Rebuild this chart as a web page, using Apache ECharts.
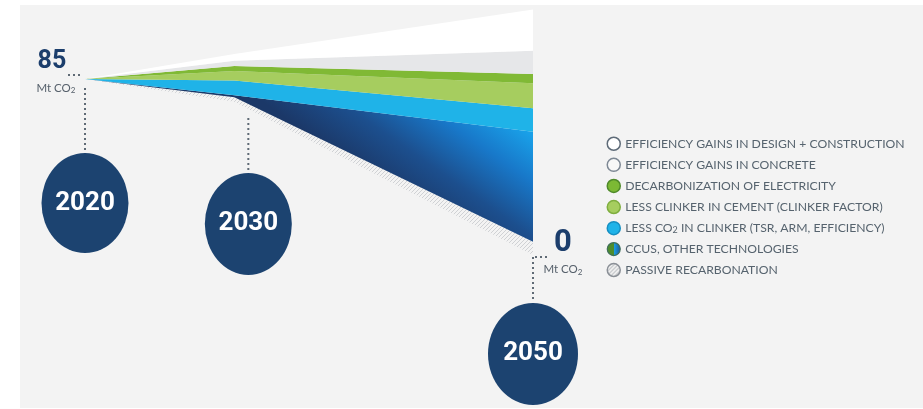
<!DOCTYPE html>
<html><head><meta charset="utf-8">
<script src="https://cdn.jsdelivr.net/npm/echarts@6/dist/echarts.min.js"></script>
<style>
html,body{margin:0;padding:0;background:#fff}
#wrap{position:relative;width:923px;height:409px}
#panel{position:absolute;left:20px;top:5px;width:903px;height:403px;background:#f3f3f3}
#c{position:absolute;left:0;top:0;width:923px;height:409px}
</style>
</head><body><div id="wrap"><div id="panel"></div><div id="c"></div></div>
<script>
// ---- data (Mt CO2) ----
const years = [2020, 2030, 2050];
const residualEmissions = [85, 75.5, 0];
const passiveRecarbonation = [0, 2.4, 7.0];
const ccusOther = [0, 1.0, 57.5];
const lessCO2InClinker = [0, 7.7, 12.2];
const lessClinkerInCement = [0, 5.0, 13.1];
const decarbElectricity = [0, 2.6, 4.8];
const effGainsConcrete = [0, 2.7, 12.2];
const effGainsDesign = [0, 3.6, 21.6];
const yearLabels = ['2020', '2030', '2050'];
const startValueLabel = '85';
const endValueLabel = '0';
const unitLabel = 'Mt CO2';
const seriesNames = [
  'EFFICIENCY GAINS IN DESIGN + CONSTRUCTION',
  'EFFICIENCY GAINS IN CONCRETE',
  'DECARBONIZATION OF ELECTRICITY',
  'LESS CLINKER IN CEMENT (CLINKER FACTOR)',
  'LESS CO2 IN CLINKER (TSR, ARM, EFFICIENCY)',
  'CCUS, OTHER TECHNOLOGIES',
  'PASSIVE RECARBONATION'
];

// ---- layout (style only) ----
const markerLayout = [
  {v: 20.2, dx: 0,  w: 87, h: 100, lineTop: 80.3, lineBot: 46.3, hLine: {v: 87.1, from: -17, to: -3}},
  {v: 9.3,  dx: 14, w: 87, h: 102, lineTop: 64.6, lineBot: 36.4},
  {v: -58.6, dx: 0, w: 90, h: 102, lineTop: -8.0, lineBot: -31.5, hLine: {v: -8.0, from: 2, to: 17}}
];
const NAVY = '#1c4370';

function hatchCanvas(bg, stroke) {
  const c = document.createElement('canvas');
  c.width = 4; c.height = 4;
  const g = c.getContext('2d');
  g.fillStyle = bg; g.fillRect(0, 0, 4, 4);
  g.strokeStyle = stroke; g.lineWidth = 1;
  g.beginPath();
  g.moveTo(0, 4); g.lineTo(4, 0);
  g.moveTo(-1, 1); g.lineTo(1, -1);
  g.moveTo(3, 5); g.lineTo(5, 3);
  g.stroke();
  return c;
}
const hatch = hatchCanvas('#f3f3f3', '#cfd1d4');

const ccusGrad = new echarts.graphic.LinearGradient(0.79, 0.9, 0.953, 0.26, [
  {offset: 0, color: '#1b3868'},
  {offset: 0.35, color: '#1c4f8e'},
  {offset: 0.7, color: '#1878c9'},
  {offset: 1, color: '#19a0e8'}
]);

// stacking order from the bottom of the wedge upward
const stackOrder = [
  {name: seriesNames[6], values: passiveRecarbonation, fill: {image: hatch, repeat: 'repeat'}},
  {name: seriesNames[5], values: ccusOther, fill: ccusGrad},
  {name: seriesNames[4], values: lessCO2InClinker, fill: '#1fb3e8'},
  {name: seriesNames[3], values: lessClinkerInCement, fill: '#a6cd5f'},
  {name: seriesNames[2], values: decarbElectricity, fill: '#80b935'},
  {name: seriesNames[1], values: effGainsConcrete, fill: '#e6e7e9'},
  {name: seriesNames[0], values: effGainsDesign, fill: '#ffffff'}
];

let running = years.map((y, i) => residualEmissions[i] - passiveRecarbonation[i]);
const bandSeries = stackOrder.map((b, k) => {
  const lower = running.slice();
  const upper = lower.map((v, i) => v + b.values[i]);
  running = upper;
  return {
    name: b.name, type: 'custom', silent: true, z: 3,
    data: years.map((y, i) => [y, lower[i], upper[i]]),
    renderItem: function (params, api) {
      if (params.dataIndex !== 0) return null;
      const pts = [];
      for (let i = 0; i < years.length; i++) pts.push(api.coord([years[i], upper[i]]));
      for (let i = years.length - 1; i >= 0; i--) pts.push(api.coord([years[i], lower[i]]));
      return {type: 'polygon', shape: {points: pts}, style: {fill: b.fill, stroke: null}};
    },
    itemStyle: {color: typeof b.fill === 'string' ? b.fill : '#1a7fd0'}
  };
});

const series = bandSeries.concat([
  // connectors
  {
    type: 'custom', silent: true, z: 4,
    data: years.map((y, i) => [y, i]),
    renderItem: function (params, api) {
      const i = api.value(1), y = api.value(0), L = markerLayout[i];
      const a = api.coord([y, L.lineTop]), b = api.coord([y, L.lineBot]);
      const st = {stroke: '#5f6a75', lineWidth: 2, lineDash: [2, 3]};
      const children = [{type: 'line', shape: {x1: a[0] + L.dx, y1: a[1], x2: b[0] + L.dx, y2: b[1]}, style: st}];
      if (L.hLine) {
        const h = api.coord([y, L.hLine.v]);
        children.push({type: 'line', shape: {x1: h[0] + L.hLine.from, y1: h[1], x2: h[0] + L.hLine.to, y2: h[1]}, style: st});
      }
      return {type: 'group', children};
    }
  },
  // year circles
  {
    type: 'scatter', silent: true, z: 5, clip: false,
    data: years.map((y, i) => ({
      value: [y, markerLayout[i].v], name: yearLabels[i],
      symbolSize: [markerLayout[i].w, markerLayout[i].h],
      symbolOffset: [markerLayout[i].dx, 0]
    })),
    itemStyle: {color: NAVY, opacity: 1},
    label: {show: true, position: 'inside', formatter: p => p.name, color: '#fff',
            fontFamily: 'Roboto', fontWeight: 'bold', fontSize: 26}
  },
  // value labels
  {
    type: 'scatter', silent: true, z: 6, clip: false, symbolSize: 0.1,
    itemStyle: {color: 'transparent', opacity: 1},
    data: [
      {value: [years[0], residualEmissions[0]], name: startValueLabel,
       label: {position: [-33, -17.5]}},
      {value: [years[2], residualEmissions[2]], name: endValueLabel,
       label: {position: [30, 2], fontSize: 31}}
    ],
    label: {show: true, formatter: p => p.name, align: 'center', verticalAlign: 'middle',
            fontFamily: 'Roboto', fontWeight: 'bold', fontSize: 25, color: '#1c3e6c'}
  },
  {
    type: 'scatter', silent: true, z: 6, clip: false, symbolSize: 0.1,
    itemStyle: {color: 'transparent', opacity: 1},
    data: [
      {value: [years[0], residualEmissions[0]], label: {position: [-29, 9]}},
      {value: [years[2], residualEmissions[2]], label: {position: [30, 28]}}
    ],
    label: {show: true, formatter: () => unitLabel.replace('CO2', 'CO{s|2}'),
            align: 'center', verticalAlign: 'middle',
            fontFamily: 'Lato', fontSize: 11.5, color: '#56606b',
            rich: {s: {fontFamily: 'Lato', fontSize: 8, color: '#56606b', padding: [5, 0, 0, 0]}}}
  }
]);

const legendStyles = [
  {color: '#ffffff', borderColor: '#5e6b78', borderWidth: 1.5},
  {color: '#f8f8f8', borderColor: '#7d8894', borderWidth: 1.5},
  {color: '#7cb934', borderColor: '#4f8a2a', borderWidth: 1.5},
  {color: '#a6cd5f', borderColor: '#7fae3f', borderWidth: 1.5},
  {color: '#1fb3e8', borderColor: '#168fc2', borderWidth: 1.5},
  {color: new echarts.graphic.LinearGradient(0, 0, 1, 0, [
      {offset: 0, color: '#4e8c2c'}, {offset: 0.5, color: '#4e8c2c'},
      {offset: 0.5, color: '#1aa2e6'}, {offset: 1, color: '#1b5292'}]),
   borderColor: '#3f6e5a', borderWidth: 1.2},
  {color: {image: hatchCanvas('#f0f0f0', '#a9adb2'), repeat: 'repeat'}, borderColor: '#8b9097', borderWidth: 1.5}
];

const option = {
  animation: false,
  backgroundColor: 'transparent',
  grid: {left: 85, right: 390, top: 0, bottom: 0},
  xAxis: {type: 'value', min: 2020, max: 2050, show: false},
  yAxis: {type: 'value', min: -87.4, max: 126.3, show: false},
  legend: {
    orient: 'vertical', left: 606.5, top: 136.5, padding: 0,
    itemWidth: 13, itemHeight: 13, itemGap: 6.6,
    selectedMode: false, icon: 'circle',
    data: seriesNames.map((n, i) => ({name: n, icon: 'circle', itemStyle: legendStyles[i]})),
    formatter: n => n.replace('CO2', 'CO{s|2}'),
    textStyle: {fontFamily: 'Lato', fontSize: 12.2, color: '#56636e', lineHeight: 13, height: 13,
                rich: {s: {fontFamily: 'Lato', fontSize: 9, color: '#56636e', padding: [4, 0, 0, 0], lineHeight: 9}}}
  },
  series
};
const chart = echarts.init(document.getElementById('c'));
chart.setOption(option);
</script>
</body></html>
